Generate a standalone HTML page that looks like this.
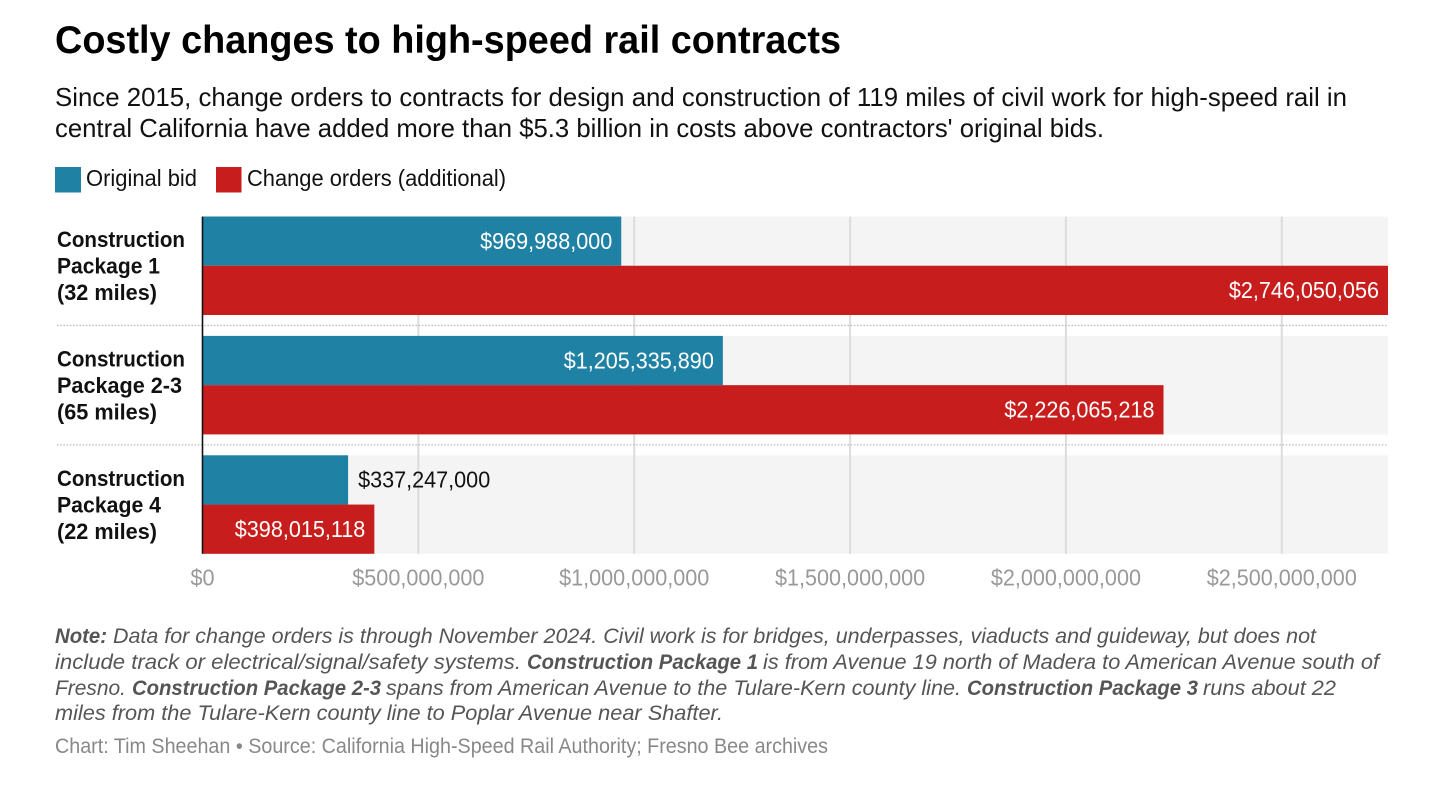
<!DOCTYPE html>
<html lang="en">
<head>
<meta charset="utf-8">
<title>Costly changes to high-speed rail contracts</title>
<style>
html,body{margin:0;padding:0;background:#fff;width:1456px;height:787px;overflow:hidden}
svg{display:block;font-family:"Liberation Sans",Arial,sans-serif}
.note{font-size:21px;fill:#555;font-style:italic}
.noteb{font-size:21px;fill:#555;font-style:italic;font-weight:700}
</style>
</head>
<body>
<svg id="chart" width="1456" height="787" viewBox="0 0 1456 787" xmlns="http://www.w3.org/2000/svg">
  <rect x="0" y="0" width="1456" height="787" fill="#fff"/>
  <text x="55" y="53" font-size="38.5" font-weight="700" fill="#000" textLength="786" lengthAdjust="spacingAndGlyphs">Costly changes to high-speed rail contracts</text>
  <text x="55" y="106" font-size="26" fill="#111" textLength="1292" lengthAdjust="spacingAndGlyphs">Since 2015, change orders to contracts for design and construction of 119 miles of civil work for high-speed rail in</text>
  <text x="55" y="137" font-size="26" fill="#111" textLength="1049" lengthAdjust="spacingAndGlyphs">central California have added more than $5.3 billion in costs above contractors' original bids.</text>

  <rect x="55" y="167" width="26" height="25.5" fill="#1f81a4"/>
  <text x="86" y="186" font-size="23" fill="#111" textLength="111" lengthAdjust="spacingAndGlyphs">Original bid</text>
  <rect x="216" y="167" width="25.5" height="25.5" fill="#c71e1d"/>
  <text x="247" y="186" font-size="23" fill="#111" textLength="259" lengthAdjust="spacingAndGlyphs">Change orders (additional)</text>

  <g id="plot"></g>

  <g>
    <text class="noteb" x="55" y="643" textLength="52" lengthAdjust="spacingAndGlyphs">Note:</text>
    <text class="note" x="113" y="643" textLength="1203" lengthAdjust="spacingAndGlyphs">Data for change orders is through November 2024. Civil work is for bridges, underpasses, viaducts and guideway, but does not</text>
    <text class="note" x="55" y="669" textLength="466" lengthAdjust="spacingAndGlyphs">include track or electrical/signal/safety systems.</text>
    <text class="noteb" x="527" y="669" textLength="231" lengthAdjust="spacingAndGlyphs">Construction Package 1</text>
    <text class="note" x="763" y="669" textLength="616" lengthAdjust="spacingAndGlyphs">is from Avenue 19 north of Madera to American Avenue south of</text>
    <text class="note" x="55" y="695" textLength="71" lengthAdjust="spacingAndGlyphs">Fresno.</text>
    <text class="noteb" x="132" y="695" textLength="249" lengthAdjust="spacingAndGlyphs">Construction Package 2-3</text>
    <text class="note" x="386" y="695" textLength="575" lengthAdjust="spacingAndGlyphs">spans from American Avenue to the Tulare-Kern county line.</text>
    <text class="noteb" x="967" y="695" textLength="231" lengthAdjust="spacingAndGlyphs">Construction Package 3</text>
    <text class="note" x="1203" y="695" textLength="133" lengthAdjust="spacingAndGlyphs">runs about 22</text>
    <text class="note" x="55" y="720" textLength="668" lengthAdjust="spacingAndGlyphs">miles from the Tulare-Kern county line to Poplar Avenue near Shafter.</text>
    <text x="55" y="753" font-size="21" fill="#888" textLength="773" lengthAdjust="spacingAndGlyphs">Chart: Tim Sheehan • Source: California High-Speed Rail Authority; Fresno Bee archives</text>
  </g>
</svg>
<script>
const categoryLines = [
  ["Construction", "Package 1", "(32 miles)"],
  ["Construction", "Package 2-3", "(65 miles)"],
  ["Construction", "Package 4", "(22 miles)"]
];
const originalBid = [969988000, 1205335890, 337247000];
const changeOrders = [2746050056, 2226065218, 398015118];
const tickValues = [0, 500000000, 1000000000, 1500000000, 2000000000, 2500000000];

const SVG_NS = "http://www.w3.org/2000/svg";
const plot = document.getElementById("plot");
const plotLeft = 202.5, plotRight = 1388, plotTop = 216.5, plotBottom = 553.7;
const groupStep = 119.4, groupHeight = 98.5, separatorOffset = 109;
const domainMax = Math.max.apply(null, originalBid.concat(changeOrders));
const BLUE = "#1f81a4", RED = "#c71e1d";
const numberFontSize = 23, numberWidthSize = 21.6;

function xScale(v) { return plotLeft + (v / domainMax) * (plotRight - plotLeft); }
function groupTop(i) { return plotTop + i * groupStep; }
function money(v) { return "$" + Math.round(v).toLocaleString("en-US"); }
function make(tag, attrs, parent) {
  const el = document.createElementNS(SVG_NS, tag);
  Object.keys(attrs).forEach(function (k) { el.setAttribute(k, attrs[k]); });
  (parent || plot).appendChild(el);
  return el;
}
function condense(el) {
  const natural = el.getComputedTextLength();
  el.setAttribute("textLength", natural * numberWidthSize / numberFontSize);
  el.setAttribute("lengthAdjust", "spacingAndGlyphs");
}

categoryLines.forEach(function (lines, i) {
  const bg = make("rect", { x: plotLeft, y: groupTop(i), width: plotRight - plotLeft, height: groupHeight, fill: "#f4f4f4" });
  
  
});

tickValues.forEach(function (t) {
  if (t === 0) return;
  const grid = make("line", { x1: xScale(t), x2: xScale(t), y1: plotTop, y2: plotBottom, stroke: "#dcdcdc", "stroke-width": 2 });
  
  
});

categoryLines.forEach(function (lines, i) {
  if (i === categoryLines.length - 1) return;
  const y = groupTop(i) + separatorOffset;
  const sep = make("line", { x1: 57, x2: plotRight, y1: y, y2: y, stroke: "#bdbdbd", "stroke-width": 1.2, "stroke-dasharray": "1.6 1.6" });
  
  
});

function drawBar(value, i, isRed) {
  const h = groupHeight / 2;
  const y = groupTop(i) + (isRed ? h : 0);
  const x1 = xScale(value);
  const bar = make("rect", { x: plotLeft, y: y, width: x1 - plotLeft, height: h, fill: isRed ? RED : BLUE });
  
  
  const inside = (x1 - plotLeft) > 152;
  const label = make("text", {
    x: inside ? x1 - 9 : x1 + 10,
    y: y + h / 2 + 7.8,
    "font-size": numberFontSize,
    "text-anchor": inside ? "end" : "start",
    fill: inside ? "#fff" : "#111"
  });
  label.textContent = money(value);
  condense(label);
  
  
}
originalBid.forEach(function (v, i) { drawBar(v, i, false); });
changeOrders.forEach(function (v, i) { drawBar(v, i, true); });

const axis = make("line", { x1: plotLeft, x2: plotLeft, y1: plotTop, y2: plotBottom, stroke: "#111", "stroke-width": 1.6 });



tickValues.forEach(function (t) {
  const tick = make("text", { x: xScale(t), y: 585.5, "font-size": numberFontSize, "text-anchor": "middle", fill: "#999" });
  tick.textContent = money(t);
  condense(tick);
  
  
});

const lineWidths = { "Construction": 128, "Package 1": 103, "Package 2-3": 125, "Package 4": 104, "(32 miles)": 100, "(65 miles)": 100, "(22 miles)": 100 };
categoryLines.forEach(function (lines, i) {
  lines.forEach(function (line, j) {
    const cat = make("text", {
      x: 57, y: groupTop(i) + 30.5 + j * 26.5,
      "font-size": 22, "font-weight": 700, fill: "#111",
      textLength: lineWidths[line], lengthAdjust: "spacingAndGlyphs"
    });
    cat.textContent = line;
    
    
  });
});
</script>
</body>
</html>
